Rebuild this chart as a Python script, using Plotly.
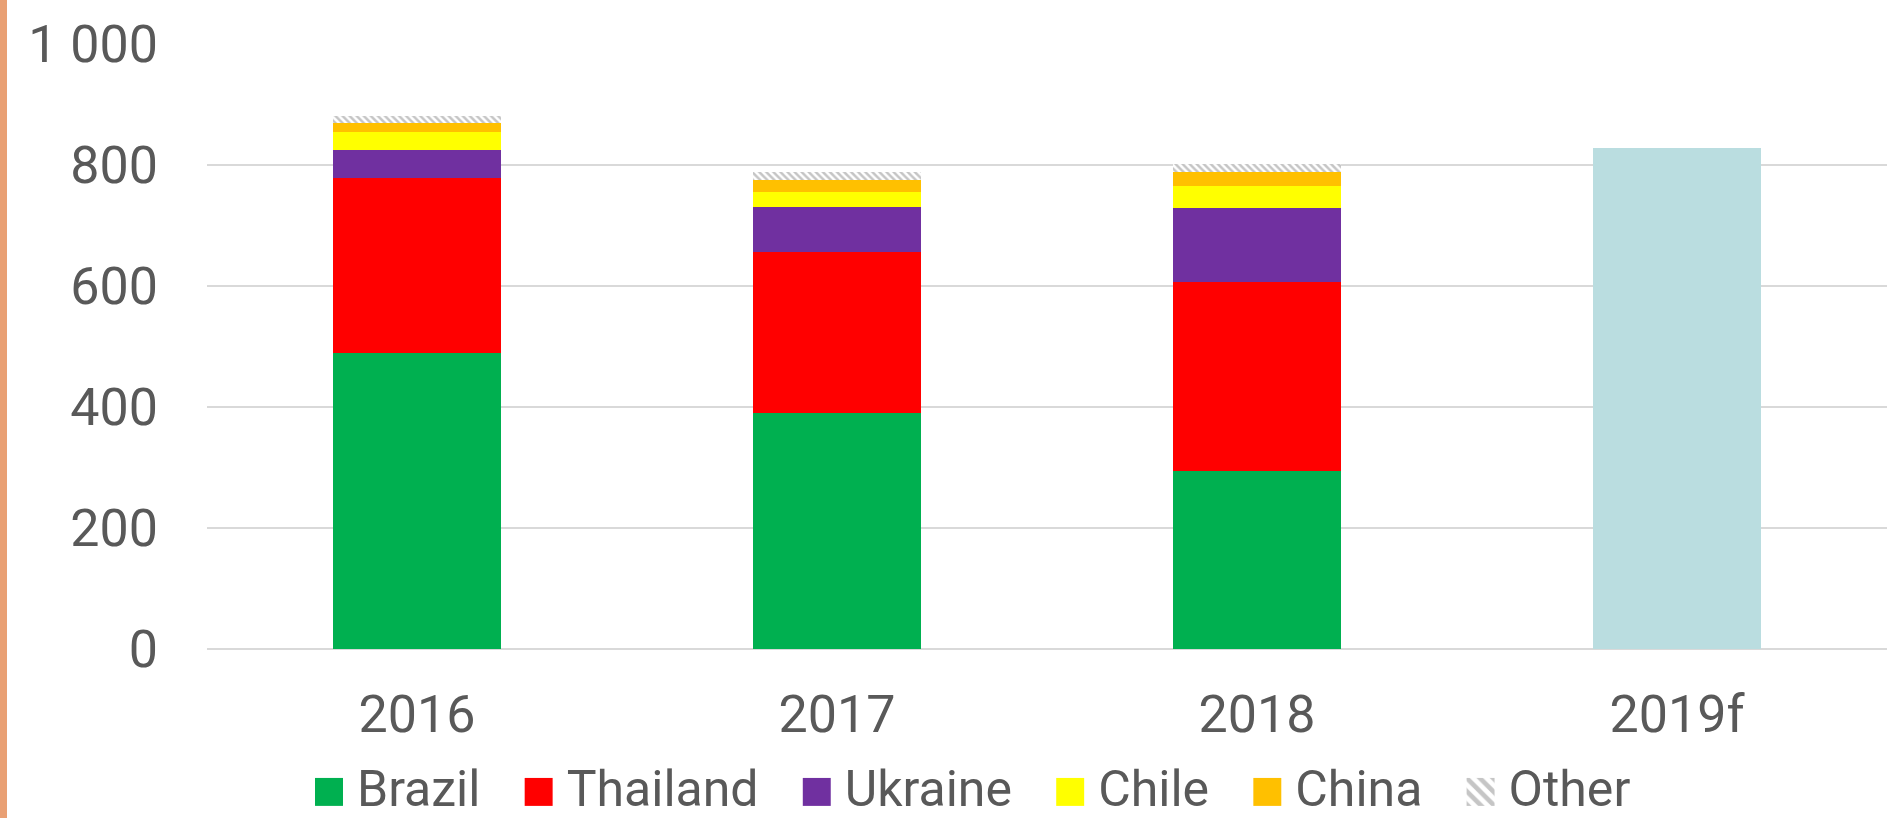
import plotly.graph_objects as go

# Categories and stacked values (thousand tonnes)
years = ["2016", "2017", "2018", "2019f"]
brazil = [489, 390, 295, None]
thailand = [289, 267, 311, None]
ukraine = [46, 74, 123, None]
chile = [30, 25, 36, None]
china = [16, 19, 24, None]
other = [11, 14, 12, None]
forecast_total = [None, None, None, 828]

series = [
    ("Brazil", brazil, "#00B050"),
    ("Thailand", thailand, "#FF0000"),
    ("Ukraine", ukraine, "#7030A0"),
    ("Chile", chile, "#FFFF00"),
    ("China", china, "#FFC000"),
]

TEXT = "#595959"
FONT = "Roboto"
PAD = "\u00a0" * 3  # extra room between legend entries

fig = go.Figure()
for name, vals, col in series:
    fig.add_trace(go.Bar(
        x=years, y=vals, name=name + PAD,
        marker=dict(color=col, line=dict(width=0)),
    ))

fig.add_trace(go.Bar(
    x=years, y=other, name="Other" + PAD,
    marker=dict(
        color="white",
        line=dict(width=0),
        pattern=dict(shape="\\", fgcolor="#8C8C8C", bgcolor="white",
                     size=5, solidity=0.5),
    ),
))

fig.add_trace(go.Bar(
    x=years, y=forecast_total, name="2019f",
    marker=dict(color="#BADDE0", line=dict(width=0)),
    showlegend=False,
))

fig.update_layout(
    barmode="stack",
    bargap=0.6,
    width=1887, height=818,
    margin=dict(l=207, r=0, t=44, b=169, autoexpand=False),
    paper_bgcolor="white",
    plot_bgcolor="white",
    separators=". ",
    font=dict(family=FONT, size=50, color=TEXT),
    showlegend=True,
    legend=dict(
        orientation="h",
        xref="paper", xanchor="left", x=(313 - 207) / 1680,
        yref="container", yanchor="middle", y=0.038,
        itemwidth=34,
        font=dict(family=FONT, size=50, color=TEXT),
        traceorder="normal",
        bgcolor="rgba(0,0,0,0)",
    ),
    xaxis=dict(
        type="category",
        showgrid=False, showline=False, zeroline=False,
        ticks="", ticklabelstandoff=30,
        tickfont=dict(family=FONT, size=52, color=TEXT),
    ),
    yaxis=dict(
        range=[0, 1000],
        tickvals=[0, 200, 400, 600, 800, 1000],
        tickformat=",d",
        showgrid=True, gridcolor="#D9D9D9", gridwidth=2,
        zeroline=True, zerolinecolor="#D9D9D9", zerolinewidth=2,
        showline=False, ticks="", ticklabelstandoff=48,
        tickfont=dict(family=FONT, size=52, color=TEXT),
    ),
    shapes=[dict(
        type="rect", xref="paper", yref="paper",
        x0=-207 / 1680, x1=-200 / 1680,
        y0=-169 / 605, y1=1 + 44 / 605,
        fillcolor="#E9A074", line=dict(width=0), layer="below",
    )],
)

# Enlarge the legend swatches to square blocks next to their labels
swatch_js = """
var gd = document.getElementById('{plot_id}');
function bigSwatches() {
  gd.querySelectorAll('.legendpoints path').forEach(function (p) {
    p.setAttribute('transform', 'translate(16,5) scale(2.33)');
  });
}
bigSwatches();
gd.on('plotly_afterplot', bigSwatches);
"""

fig.write_html("out.html", post_script=swatch_js)
